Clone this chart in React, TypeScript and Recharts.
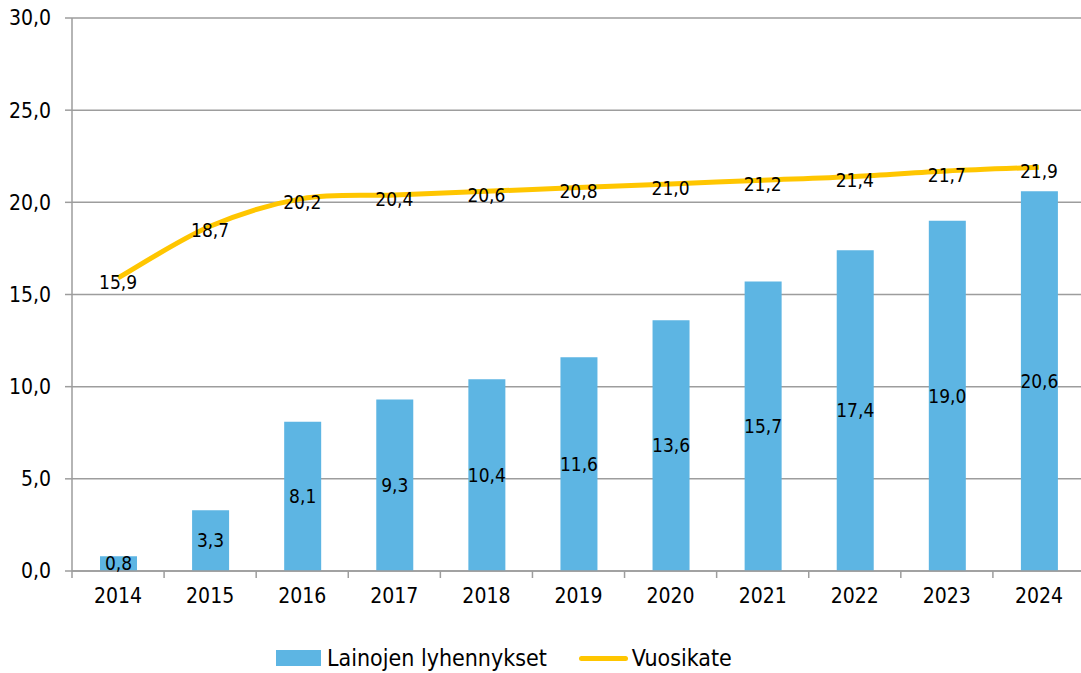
import React from 'react';
import { ComposedChart, Bar, Line, XAxis, YAxis, CartesianGrid, LabelList, Legend } from 'recharts';

const years = ['2014', '2015', '2016', '2017', '2018', '2019', '2020', '2021', '2022', '2023', '2024'];
const lainojenLyhennykset = [0.8, 3.3, 8.1, 9.3, 10.4, 11.6, 13.6, 15.7, 17.4, 19.0, 20.6];
const vuosikate = [15.9, 18.7, 20.2, 20.4, 20.6, 20.8, 21.0, 21.2, 21.4, 21.7, 21.9];
const yTicks = [0, 5, 10, 15, 20, 25, 30];

const data = years.map((y, i) => ({ year: y, laina: lainojenLyhennykset[i], vuosikate: vuosikate[i] }));

const CHART_W = 1090;
const CHART_H = 673;
const MARGIN = { top: 18, right: 5, left: 0, bottom: 0 };
const Y_W = 72;
const PLOT_W = CHART_W - MARGIN.left - MARGIN.right - Y_W;
const HALF_BAND = PLOT_W / years.length / 2;

const FONT = '"Liberation Sans Narrow", "DejaVu Sans Condensed", "Liberation Sans", sans-serif';
const GRID = '#9d9d9d';
const BAR = '#5db5e3';
const LINE = '#ffc600';

const fmt = (v: any) => Number(v).toFixed(1).replace('.', ',');

// Excel-like smoothed line (Catmull-Rom style Bezier)
const smoothCurve: any = (context: any) => {
  let pts: number[][] = [];
  return {
    areaStart() {},
    areaEnd() {},
    lineStart() {
      pts = [];
    },
    point(x: number, y: number) {
      pts.push([+x, +y]);
    },
    lineEnd() {
      if (!pts.length) return;
      context.moveTo(pts[0][0], pts[0][1]);
      for (let i = 0; i < pts.length - 1; i++) {
        const p0 = pts[i - 1] || pts[i];
        const p1 = pts[i];
        const p2 = pts[i + 1];
        const p3 = pts[i + 2] || p2;
        context.bezierCurveTo(
          p1[0] + (p2[0] - p0[0]) / 6,
          p1[1] + (p2[1] - p0[1]) / 6,
          p2[0] - (p3[0] - p1[0]) / 6,
          p2[1] - (p3[1] - p1[1]) / 6,
          p2[0],
          p2[1]
        );
      }
    },
  };
};

const XTick = (props: any) => {
  const { x, y, payload, index } = props;
  const half = payload && payload.offset ? payload.offset : HALF_BAND;
  const top = y - 8;
  return (
    <g>
      <line x1={x - half} x2={x - half} y1={top} y2={top + 7} stroke={GRID} strokeWidth={1.5} />
      {index === years.length - 1 && (
        <line x1={x + half} x2={x + half} y1={top} y2={top + 7} stroke={GRID} strokeWidth={1.5} />
      )}
      <text x={x} y={top + 32} textAnchor="middle" fontFamily={FONT} fontSize={21} fill="#000">
        {payload.value}
      </text>
    </g>
  );
};

const LegendContent = () => (
  <div style={{ height: 62, position: 'relative', fontFamily: FONT, fontSize: 23, lineHeight: '28px', color: '#000' }}>
    <div style={{ position: 'absolute', top: 33, left: 0, height: 28, display: 'flex', alignItems: 'center', whiteSpace: 'nowrap' }}>
      <span style={{ display: 'inline-block', width: 45, height: 16, background: BAR, marginRight: 6 }} />
      <span>Lainojen lyhennykset</span>
      <span style={{ display: 'inline-block', width: 49, height: 5, background: LINE, borderRadius: 3, marginLeft: 32, marginRight: 4 }} />
      <span>Vuosikate</span>
    </div>
  </div>
);

export default function App() {
  return (
    <div style={{ position: 'absolute', left: 0, top: 0, width: 1081, height: 673, overflow: 'hidden', background: '#fff' }}>
      <ComposedChart width={CHART_W} height={CHART_H} data={data} margin={MARGIN}>
        <CartesianGrid vertical={false} stroke={GRID} strokeWidth={1.5} />
        <XAxis
          dataKey="year"
          height={40}
          axisLine={{ stroke: GRID, strokeWidth: 1.5 }}
          tickLine={false}
          tick={<XTick />}
          interval={0}
        />
        <YAxis
          width={Y_W}
          domain={[0, 30]}
          ticks={yTicks}
          tickFormatter={fmt}
          axisLine={{ stroke: GRID, strokeWidth: 1.5 }}
          tickLine={{ stroke: GRID, strokeWidth: 1.5 }}
          tickSize={7}
          tickMargin={14}
          tick={{ fontFamily: FONT, fontSize: 21, fill: '#000' }}
        />
        <Legend
          verticalAlign="bottom"
          height={62}
          content={<LegendContent />}
          wrapperStyle={{ left: 276, width: 700, bottom: 0, height: 62 }}
        />
        <Bar dataKey="laina" name="Lainojen lyhennykset" fill={BAR} barSize={37} isAnimationActive={false}>
          <LabelList dataKey="laina" position="center" formatter={fmt} fill="#000" fontFamily={FONT} fontSize={19} />
        </Bar>
        <Line
          dataKey="vuosikate"
          name="Vuosikate"
          type={smoothCurve}
          stroke={LINE}
          strokeWidth={5}
          dot={false}
          activeDot={false}
          isAnimationActive={false}
        >
          <LabelList dataKey="vuosikate" position="center" formatter={fmt} fill="#000" fontFamily={FONT} fontSize={19} dy={4} />
        </Line>
      </ComposedChart>
    </div>
  );
}
